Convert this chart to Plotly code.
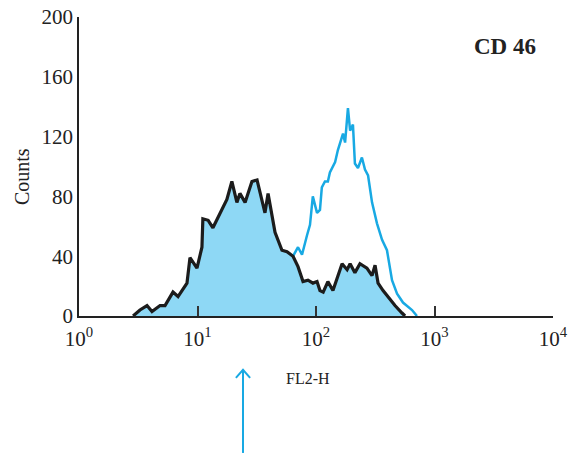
import plotly.graph_objects as go

# FL2-H intensity and counts
fl2_black = [2.86, 3.27, 3.75, 4.13, 4.83, 5.32, 6.21, 6.85, 8.15, 8.64, 9.9, 10.9, 11.1, 12.3,
             13.5, 15.5, 17.7, 19.5, 21.5, 22.8, 25.2, 28.8, 31.8, 37.1, 39.4, 45.1, 51.6,
             56.9, 64, 70.5, 77.7, 85.6, 94.3, 102, 108, 115, 126, 139, 166, 183, 194, 213,
             235, 269, 297, 315, 334, 368, 421, 464, 532, 564]
counts_black = [0, 4, 7, 3, 7, 7, 16, 13, 22, 39, 32, 46, 65, 64,
                59, 69, 78, 90, 76, 82, 76, 90, 91, 69, 82, 56, 44,
                43, 40, 33, 23, 24, 22, 23, 17, 16, 23, 17, 35, 31, 35, 29,
                35, 32, 27, 34, 22, 17, 11, 7, 2, 0]

fl2_blue = [64, 70.5, 76.2, 80.7, 84, 89, 94, 102, 108, 112, 119, 126, 131, 145, 153, 169,
            176, 186, 194, 205, 213, 226, 244, 259, 275, 297, 327, 361, 397, 438, 483,
            542, 597, 646, 711]
counts_blue = [40, 46, 41, 50, 54, 61, 80, 69, 71, 86, 90, 90, 96, 103, 111, 122,
               116, 139, 124, 128, 102, 99, 106, 98, 94, 76, 62, 51, 44, 24, 15,
               9, 6, 4, 0]

x_tickvals = [1, 10, 100, 1000, 10000]
x_ticktext = ["10<sup>0</sup>", "10<sup>1</sup>", "10<sup>2</sup>", "10<sup>3</sup>", "10<sup>4</sup>"]
y_tickvals = [0, 40, 80, 120, 160, 200]

SERIF = "Liberation Serif, Times New Roman, serif"
FILL = "#8ed8f5"
BLUE = "#18a9e3"
BLACK = "#1c1c1c"

fig = go.Figure()
fig.add_trace(go.Scatter(x=fl2_black, y=counts_black, mode="lines", fill="tozeroy",
                         fillcolor=FILL, line=dict(width=0, color=FILL), hoverinfo="skip"))
fig.add_trace(go.Scatter(x=fl2_blue, y=counts_blue, mode="lines",
                         line=dict(width=2.5, color=BLUE)))
fig.add_trace(go.Scatter(x=fl2_black, y=counts_black, mode="lines",
                         line=dict(width=3.2, color=BLACK)))

fig.update_layout(
    width=573, height=454,
    margin=dict(l=79, r=20, t=17, b=138),
    paper_bgcolor="white", plot_bgcolor="white",
    showlegend=False,
    font=dict(family=SERIF, color="#222222", size=20),
    xaxis=dict(type="log", range=[0, 4], tickvals=x_tickvals, ticktext=x_ticktext,
               ticks="inside", ticklen=10, tickwidth=1.5, tickcolor="#333333",
               showline=True, linecolor="#222222", linewidth=2, showgrid=False,
               zeroline=False, tickfont=dict(size=21), automargin=False,
               ticklabelstandoff=3),
    yaxis=dict(range=[0, 200], tickvals=y_tickvals, ticks="", showline=True,
               linecolor="#222222", linewidth=1.5, showgrid=False, zeroline=False,
               tickfont=dict(size=21), automargin=False),
    annotations=[
        dict(text="Counts", xref="paper", yref="paper", x=-0.12, y=0.465,
             textangle=-90, showarrow=False, font=dict(size=20), xanchor="center", yanchor="middle"),
        dict(text="<b>CD 46</b>", xref="paper", yref="paper", x=0.898, y=0.9,
             showarrow=False, font=dict(size=23), xanchor="center", yanchor="middle"),
        dict(text="FL2-H", xref="paper", yref="paper", x=0.483, y=-0.21,
             showarrow=False, font=dict(size=16), xanchor="center", yanchor="middle"),
    ],
    shapes=[
        dict(type="line", xref="paper", yref="paper", x0=0.346, x1=0.346, y0=-0.458, y1=-0.18,
             line=dict(color=BLUE, width=2)),
        dict(type="path", xref="paper", yref="paper",
             path="M 0.331,-0.207 L 0.346,-0.18 L 0.361,-0.207",
             line=dict(color=BLUE, width=2)),
    ],
)

fig.write_html("out.html", config={"displayModeBar": False},
               post_script="document.body.style.margin='0';")
